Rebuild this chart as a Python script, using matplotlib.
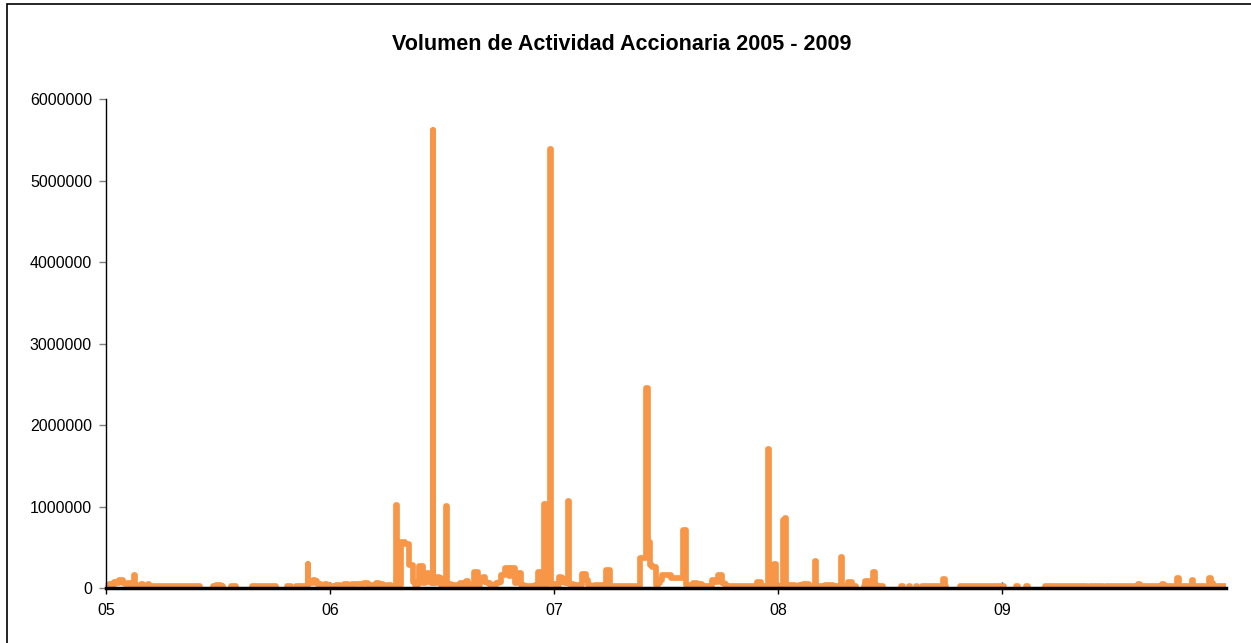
import numpy as np
import matplotlib.pyplot as plt
from matplotlib.patches import Rectangle

plt.rcParams['font.family'] = ['Liberation Sans', 'DejaVu Sans']

nan = np.nan

# fechas en años decimales, volumen diario (nan = sin datos)
fecha_2005 = [2005.000, 2005.009, 2005.022, 2005.031, 2005.040, 2005.053, 2005.062, 2005.071,
              2005.080, 2005.093, 2005.107, 2005.116, 2005.124, 2005.128, 2005.132, 2005.142,
              2005.151, 2005.160, 2005.169, 2005.178, 2005.187, 2005.191, 2005.196, 2005.209,
              2005.284, 2005.351, 2005.418, 2005.420,
              2005.480, 2005.502, 2005.524, 2005.526,
              2005.556, 2005.582, 2005.584,
              2005.653, 2005.707, 2005.760, 2005.762,
              2005.809, 2005.827, 2005.829,
              2005.849, 2005.876, 2005.898, 2005.902, 2005.906, 2005.920, 2005.929, 2005.938,
              2005.947, 2005.956, 2005.964, 2005.973, 2005.982, 2005.991, 2005.996]
vol_2005 = [20000, 30000, 50000, 40000, 75000, 60000, 95000, 100000,
            60000, 50000, 60000, 40000, 40000, 165000, 40000, 30000,
            30000, 55000, 30000, 25000, 25000, 50000, 25000, 20000,
            20000, 20000, 20000, nan,
            25000, 35000, 25000, nan,
            20000, 20000, nan,
            20000, 20000, 20000, nan,
            20000, 20000, nan,
            20000, 20000, 20000, 290000, 60000, 60000, 100000, 90000,
            50000, 50000, 30000, 40000, 45000, 40000, 25000]

fecha_2006 = [2006.000, 2006.018, 2006.036, 2006.054, 2006.071, 2006.089, 2006.107, 2006.125,
              2006.143, 2006.161, 2006.179, 2006.196, 2006.214, 2006.228, 2006.246, 2006.263,
              2006.281, 2006.295, 2006.299, 2006.303, 2006.313, 2006.321, 2006.330, 2006.339,
              2006.348, 2006.357, 2006.366, 2006.375, 2006.384, 2006.393, 2006.402, 2006.411,
              2006.420, 2006.429, 2006.438, 2006.446, 2006.456, 2006.460, 2006.464, 2006.473,
              2006.482, 2006.491, 2006.500, 2006.513, 2006.518, 2006.522, 2006.526, 2006.536,
              2006.549, 2006.562, 2006.576, 2006.589, 2006.603, 2006.612, 2006.621, 2006.638,
              2006.647, 2006.656, 2006.665, 2006.679, 2006.688, 2006.696, 2006.710, 2006.723,
              2006.737, 2006.746, 2006.759, 2006.768, 2006.777, 2006.786, 2006.795, 2006.804,
              2006.813, 2006.821, 2006.830, 2006.839, 2006.848, 2006.857, 2006.875, 2006.893,
              2006.911, 2006.924, 2006.929, 2006.938, 2006.946, 2006.951, 2006.956, 2006.962,
              2006.967, 2006.973, 2006.978, 2006.982, 2006.986, 2006.990, 2006.998]
vol_2006 = [25000, 30000, 40000, 30000, 45000, 35000, 50000, 45000,
            55000, 60000, 35000, 30000, 60000, 50000, 30000, 40000,
            30000, 30000, 1020000, 40000, 40000, 570000, 570000, 540000,
            540000, 280000, 280000, 70000, 40000, 50000, 270000, 270000,
            60000, 80000, 180000, 150000, 60000, 5620000, 60000, 60000,
            135000, 120000, 40000, 40000, 40000, 1010000, 50000, 50000,
            30000, 40000, 30000, 60000, 40000, 90000, 40000, 40000,
            200000, 200000, 40000, 90000, 135000, 80000, 60000, 40000,
            40000, 60000, 70000, 160000, 160000, 240000, 240000, 150000,
            250000, 250000, 60000, 190000, 190000, 40000, 30000, 30000,
            30000, 40000, 200000, 200000, 40000, 40000, 1030000, 1030000,
            40000, 100000, 100000, 100000, 5390000, 50000, 50000]

fecha_2007 = [2007.000, 2007.018, 2007.027, 2007.036, 2007.045, 2007.054, 2007.062, 2007.067,
              2007.071, 2007.080, 2007.094, 2007.107, 2007.125, 2007.129, 2007.138, 2007.147,
              2007.156, 2007.174, 2007.192, 2007.210, 2007.228, 2007.237, 2007.246, 2007.254,
              2007.299, 2007.344, 2007.380, 2007.388, 2007.397, 2007.406, 2007.415, 2007.424,
              2007.433, 2007.442, 2007.451, 2007.460, 2007.469, 2007.478, 2007.487, 2007.500,
              2007.518, 2007.527, 2007.545, 2007.562, 2007.572, 2007.583, 2007.594, 2007.612,
              2007.629, 2007.647, 2007.656, 2007.670, 2007.688, 2007.701, 2007.714, 2007.728,
              2007.737, 2007.746, 2007.754, 2007.763, 2007.777, 2007.813, 2007.857, 2007.906,
              2007.911, 2007.920, 2007.929, 2007.946, 2007.953, 2007.958, 2007.963, 2007.975,
              2007.980, 2007.987, 2007.994]
vol_2007 = [50000, 40000, 135000, 120000, 80000, 60000, 60000, 1070000,
            50000, 50000, 40000, 40000, 40000, 170000, 170000, 100000,
            40000, 30000, 40000, 40000, 30000, 220000, 220000, 30000,
            30000, 30000, 30000, 370000, 370000, 370000, 2450000, 565000,
            280000, 260000, 260000, 40000, 60000, 100000, 160000, 160000,
            160000, 120000, 120000, 120000, 120000, 710000, 40000, 30000,
            60000, 40000, 50000, 30000, 30000, 30000, 100000, 80000,
            160000, 160000, 60000, 50000, 20000, 20000, 20000, 20000,
            75000, 75000, 30000, 30000, 30000, 1700000, 30000, 30000,
            30000, 290000, 30000]

fecha_2008 = [2008.000, 2008.020, 2008.026, 2008.034, 2008.040, 2008.053, 2008.067, 2008.084,
              2008.102, 2008.120, 2008.133, 2008.142, 2008.156, 2008.164, 2008.169, 2008.174,
              2008.182, 2008.200, 2008.218, 2008.236, 2008.253, 2008.271, 2008.280, 2008.284,
              2008.289, 2008.298, 2008.307, 2008.316, 2008.324, 2008.333, 2008.347, 2008.349,
              2008.382, 2008.391, 2008.400, 2008.409, 2008.418, 2008.427, 2008.436, 2008.444,
              2008.462, 2008.471, 2008.473,
              2008.489, 2008.493, 2008.495,
              2008.516, 2008.520, 2008.522,
              2008.551, 2008.556, 2008.558,
              2008.587, 2008.591, 2008.593,
              2008.618, 2008.622, 2008.624,
              2008.644, 2008.724, 2008.733, 2008.742, 2008.751, 2008.753,
              2008.813, 2008.902, 2008.960, 2008.995]
vol_2008 = [30000, 30000, 840000, 860000, 40000, 40000, 40000, 30000,
            40000, 50000, 50000, 30000, 30000, 30000, 335000, 30000,
            30000, 30000, 40000, 40000, 30000, 30000, 30000, 380000,
            30000, 30000, 30000, 74000, 74000, 20000, 20000, nan,
            30000, 90000, 90000, 40000, 40000, 200000, 40000, 30000,
            30000, 20000, nan,
            20000, 20000, nan,
            20000, 20000, nan,
            20000, 20000, nan,
            20000, 20000, nan,
            20000, 20000, nan,
            20000, 20000, 20000, 114000, 20000, nan,
            20000, 20000, 20000, 20000]

fecha_2009 = [2009.000, 2009.010, 2009.012,
              2009.063, 2009.071, 2009.073,
              2009.107, 2009.116, 2009.118,
              2009.192, 2009.379, 2009.381,
              2009.393, 2009.451, 2009.453,
              2009.464, 2009.603, 2009.612, 2009.621, 2009.710, 2009.719, 2009.728, 2009.777,
              2009.785, 2009.794, 2009.844, 2009.851, 2009.858, 2009.920, 2009.928, 2009.937,
              2009.946, 2009.998]
vol_2009 = [20000, 20000, nan,
            20000, 20000, nan,
            20000, 20000, nan,
            20000, 20000, nan,
            20000, 20000, nan,
            30000, 30000, 50000, 30000, 30000, 50000, 30000, 30000,
            120000, 30000, 30000, 95000, 30000, 30000, 120000, 60000,
            30000, 30000]

fechas = np.array(fecha_2005 + fecha_2006 + fecha_2007 + fecha_2008 + fecha_2009)
volumen = np.array(vol_2005 + vol_2006 + vol_2007 + vol_2008 + vol_2009, dtype=float)

anios = [2005, 2006, 2007, 2008, 2009]
etiquetas = ['05', '06', '07', '08', '09']

fig = plt.figure(figsize=(12.51, 6.43), dpi=100)
ax = fig.add_axes([0.0847, 0.0855, 0.8953, 0.7605])

# cada tramo sin huecos se dibuja por separado
cortes = np.where(np.isnan(volumen))[0]
inicio = 0
for c in list(cortes) + [len(volumen)]:
    ax.plot(fechas[inicio:c], volumen[inicio:c], color='#F79646', linewidth=4.1,
            drawstyle='steps-mid', solid_capstyle='round', solid_joinstyle='round', zorder=2)
    inicio = c + 1

ax.set_xlim(2005, 2010)
ax.set_ylim(0, 6000000)
ax.set_yticks(np.arange(0, 6000001, 1000000))
ax.set_yticklabels([str(v) for v in range(0, 6000001, 1000000)])
ax.set_xticks(anios)
ax.set_xticklabels(etiquetas)

for s in ['top', 'right']:
    ax.spines[s].set_visible(False)
ax.spines['left'].set_linewidth(1)
ax.spines['bottom'].set_linewidth(2.5)
ax.spines['bottom'].set_zorder(3)

ax.tick_params(axis='y', direction='out', length=5, width=1, color='#808080',
               labelsize=11.5, pad=5)
ax.tick_params(axis='x', direction='inout', length=9, width=1, color='black',
               labelsize=11.5, pad=6)

fig.text(622 / 1251, 1 - 45 / 643, 'Volumen de Actividad Accionaria 2005 - 2009',
         fontsize=15.5, fontweight='bold', ha='center', va='center')

fig.patches.append(Rectangle((7 / 1251, -0.1), 1.2, 1.1 - 4 / 643, transform=fig.transFigure,
                             fill=False, edgecolor='black', linewidth=1.2))

fig.savefig('out.png', dpi=100)
